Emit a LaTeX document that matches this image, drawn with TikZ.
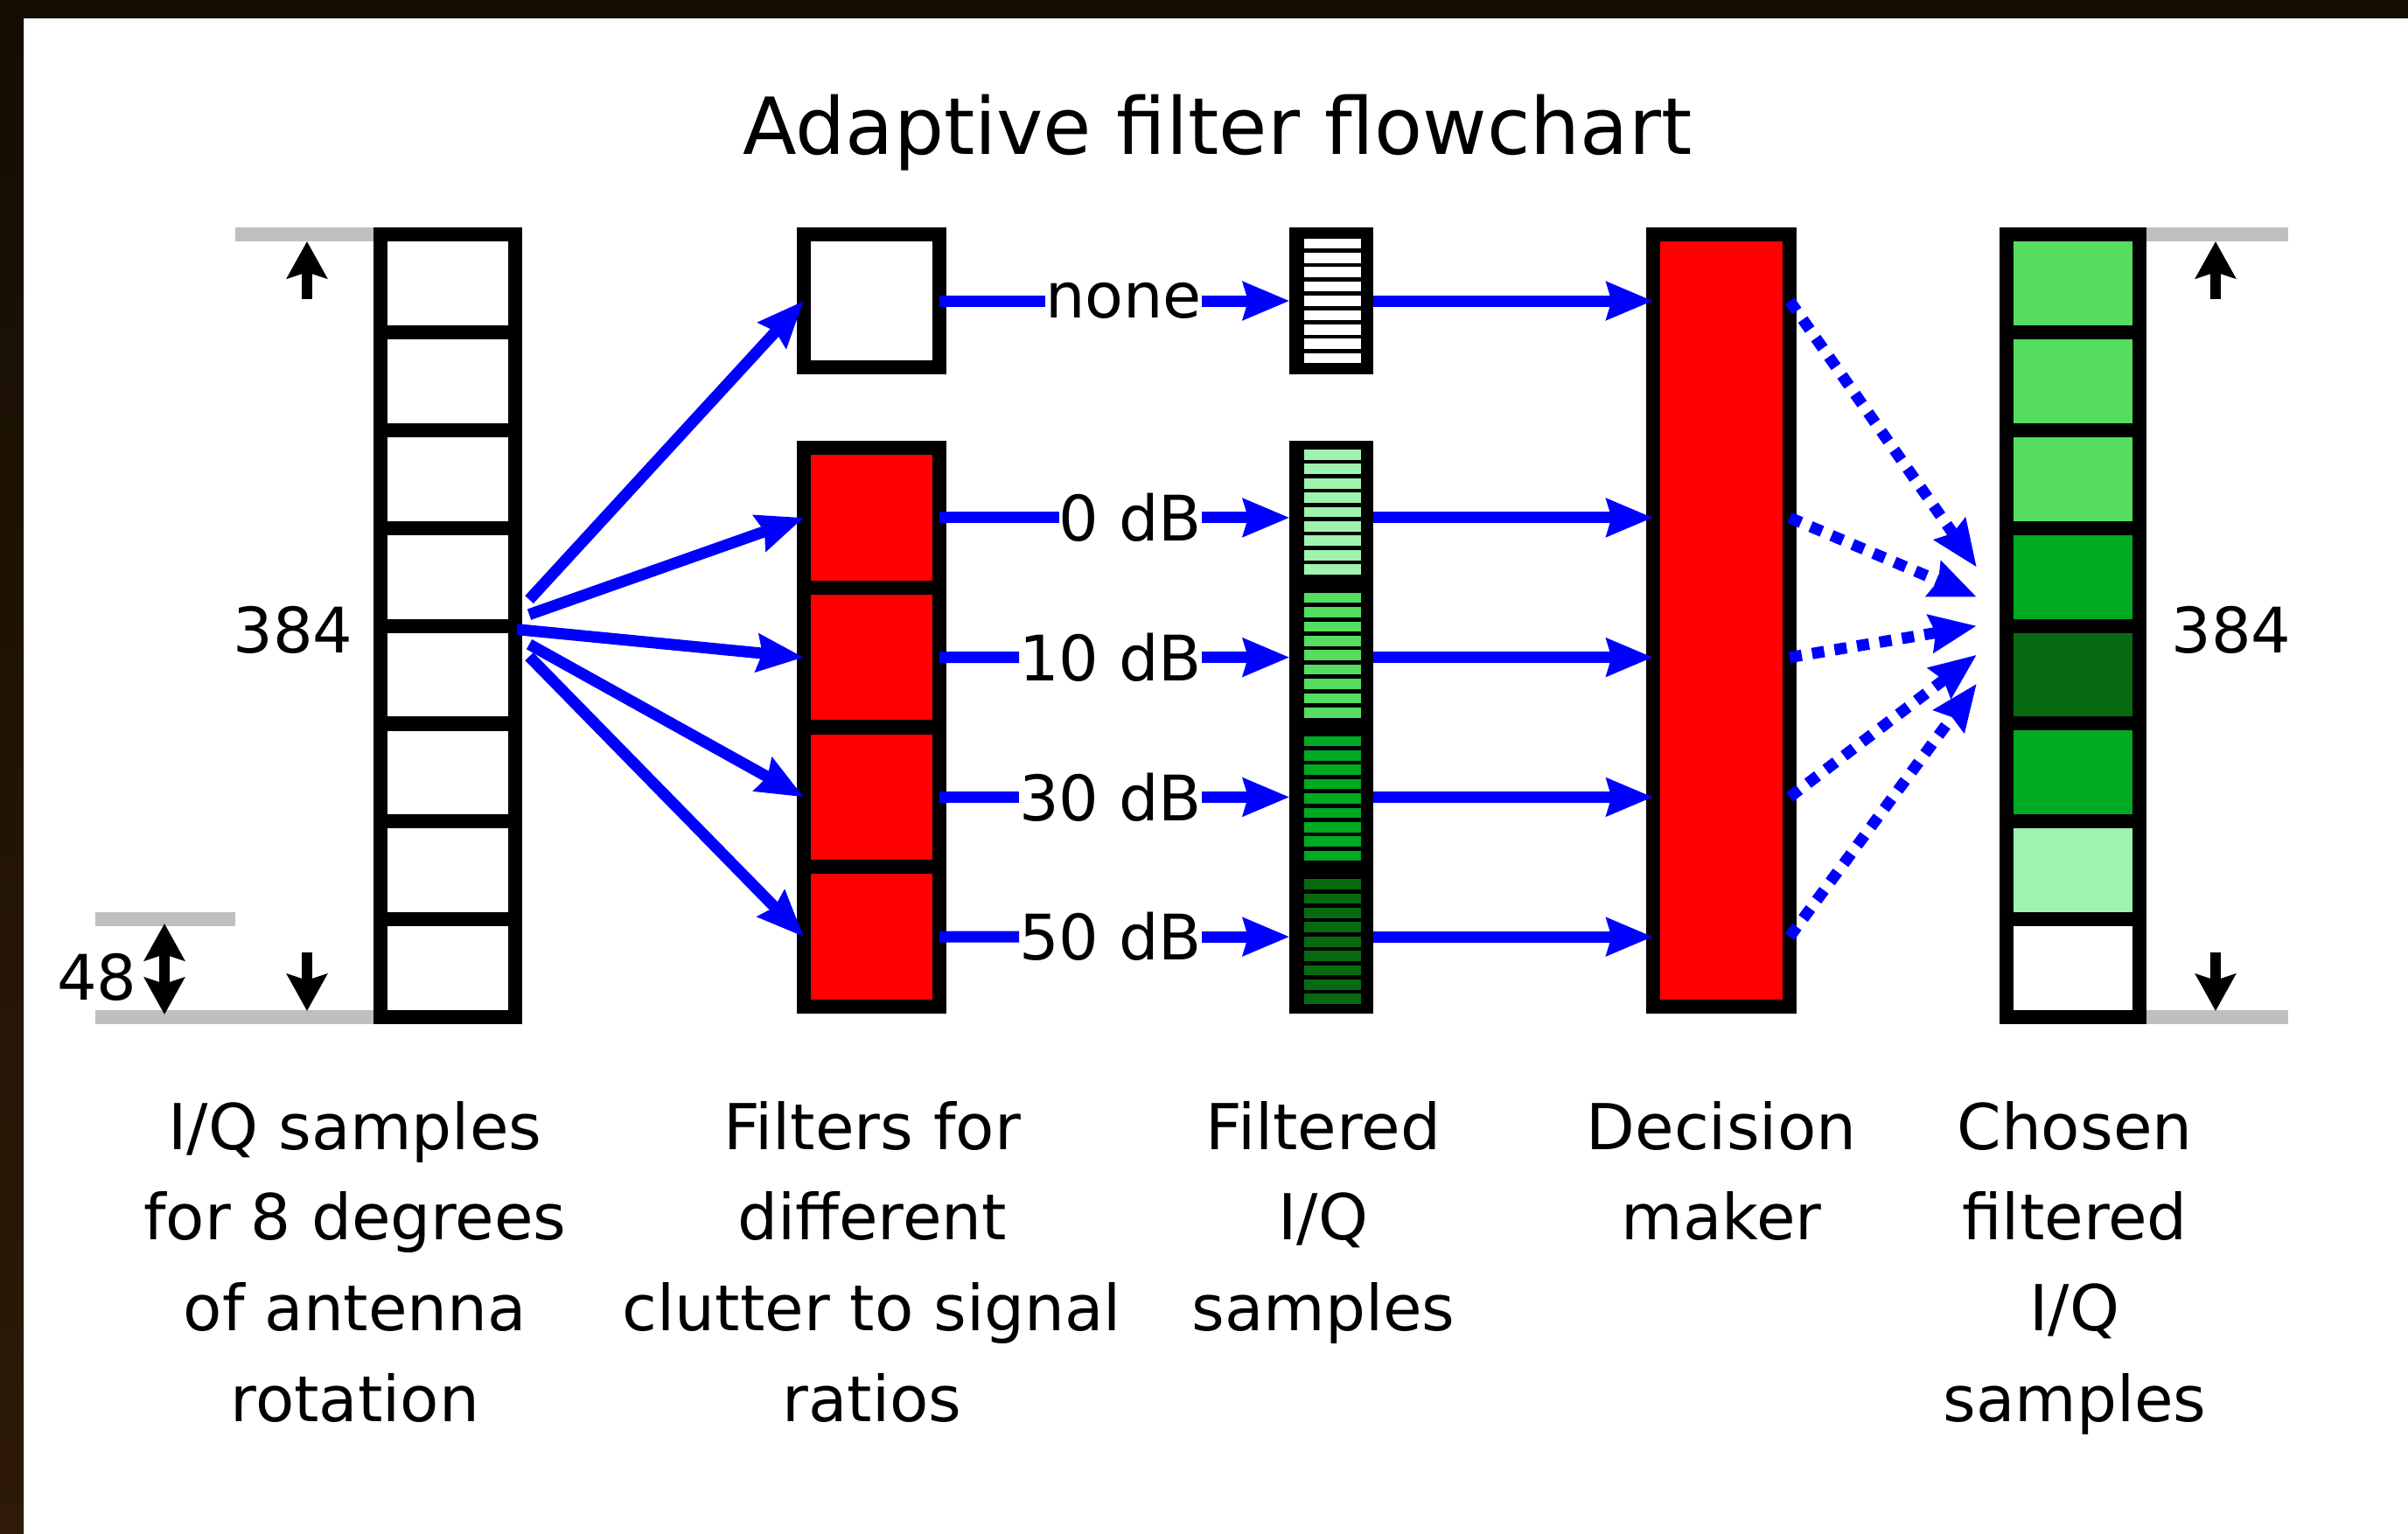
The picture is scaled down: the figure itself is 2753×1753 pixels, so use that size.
\documentclass[tikz,border=0pt]{standalone}
\usepackage{fontspec}
\setmainfont{DejaVu Sans}
\usepackage{tikz}
\usetikzlibrary{arrows.meta,positioning,calc}

\definecolor{framedark}{HTML}{140D02}
\definecolor{framebrown}{HTML}{2E1A06}
\definecolor{gmid}{HTML}{55DD60}
\definecolor{ggreen}{HTML}{00AA22}
\definecolor{gdark}{HTML}{076A11}
\definecolor{glight}{HTML}{9EF3AF}
\definecolor{guidegray}{HTML}{BFBFBF}

\begin{document}
\begin{tikzpicture}[x=0.01cm, y=-0.01cm,
    every node/.style={inner sep=0pt, outer sep=0pt},
    cell/.style={rectangle, draw=black, line width=0.16cm,
      minimum width=1.54cm, minimum height=1.119cm},
    filt/.style={rectangle, draw=black, fill=red, line width=0.16cm,
      minimum width=1.55cm, minimum height=1.5975cm},
    outbox/.style={rectangle, fill=black, minimum width=0.95cm, minimum height=1.6375cm},
    flow/.style={-{Stealth[length=15pt,width=12pt,inset=1.5pt]}, blue, line width=0.13cm},
    pick/.style={flow, dash pattern=on 4pt off 3.4pt},
    dim/.style={-{Stealth[length=12pt,width=13pt,inset=2pt]}, line width=0.12cm},
    dimboth/.style={{Stealth[length=12pt,width=13pt,inset=2pt]}-{Stealth[length=12pt,width=13pt,inset=2pt]},
      line width=0.12cm},
    rule/.style={guidegray, line width=0.16cm},
    num/.style={font=\fontsize{20.4}{24}\selectfont},
    lbl/.style={font=\fontsize{20.6}{29.5}\selectfont, align=center, anchor=north}
  ]
  % page and frame
  \fill[white] (0,0) rectangle (2753,1753);
  \shade[top color=framedark, bottom color=framebrown] (0,0) rectangle (27,1753);
  \fill[framedark] (0,0) rectangle (2753,21);

  \node[font=\fontsize{25.6}{30}\selectfont] (title) at (1392,152) {Adaptive filter flowchart};

  % guide lines for the sizes
  \coordinate (gl1) at (269,268);
  \coordinate (gl2) at (109,1163);
  \coordinate (gl3) at (109,1051.3);
  \coordinate (gl4) at (269,1051.3);
  \coordinate (gr1) at (2616,268);
  \coordinate (gr2) at (2616,1163);
  \draw[rule] (gl1) -- (435,268);
  \draw[rule] (gl2) -- (435,1163);
  \draw[rule] (gl3) -- (gl4);
  \draw[rule] (2446,268) -- (gr1);
  \draw[rule] (2446,1163) -- (gr2);

  % I/Q samples
  \foreach \k in {0,...,7}
    \node[cell] (iq\k) at (512,323.95+111.9*\k) {};
  \coordinate (fan) at (iq3.south east);

  % filters
  \node[filt, fill=white, minimum height=1.52cm] (fnone) at (996.5,344) {};
  \foreach \n [count=\g from 0] in {0,10,30,50}
    \node[filt] (f\n) at (996.5,591.9+159.75*\g) {};

  % filtered samples
  \node[outbox, minimum height=1.68cm] (qnone) at (1522,344) {};
  \foreach \i in {0,...,8}
    \fill[white] (1491,272.5+16.4*\i) rectangle (1556,284.2+16.4*\i);
  \foreach \n/\c [count=\g from 0] in {0/glight,10/gmid,30/ggreen,50/gdark} {
    \node[outbox] (q\n) at (1522,585.9+163.75*\g) {};
    \foreach \i in {0,...,8}
      \fill[\c] (1491,514+163.75*\g+16.4*\i) rectangle (1556,525.7+163.75*\g+16.4*\i);
  }

  % decision maker
  \node[filt, minimum width=1.56cm, minimum height=8.83cm] (dec) at (1968,709.5) {};

  % chosen samples
  \foreach \c [count=\k from 0] in {gmid,gmid,gmid,ggreen,gdark,ggreen,glight,white}
    \node[cell, fill=\c, minimum width=1.52cm] (ch\k) at (2370,323.95+111.9*\k) {};
  \coordinate (hub) at ([xshift=-0.34cm]ch3.south west);

  % ratio labels
  \node[num, anchor=east] (lnone) at (1374,344) {none};
  \node[num, anchor=east] (l0) at (1374,591.9) {0 dB};
  \node[num, anchor=east] (l10) at (1374,751.6) {10 dB};
  \node[num, anchor=east] (l30) at (1374,911.4) {30 dB};
  \node[num, anchor=east] (l50) at (1374,1071.1) {50 dB};

  % arrows
  \foreach \n/\sx/\sy/\d in {none/0.16/0.30/0.67,0/0.16/0.13/0.33,10/0.02/-0.04/0,30/0.16/-0.21/-0.33,50/0.16/-0.35/-0.66} {
    \coordinate (s\n) at ([xshift=\sx cm, yshift=\sy cm]fan);
    \draw[flow] (s\n) -- (f\n.west);
    \draw[blue, line width=0.13cm] (f\n.east) -- (l\n);
    \draw[flow] (l\n) -- (l\n -| q\n.west);
    \draw[flow] (l\n -| q\n.east) -- (l\n -| dec.west);
    \coordinate (t\n) at ([yshift=\d cm]hub);
    \draw[pick] (l\n -| dec.east) -- (t\n);
  }

  % size marks
  \coordinate (upL1) at (351,342);
  \coordinate (upL2) at (351,276);
  \coordinate (dnL1) at (351,1089);
  \coordinate (dnL2) at (351,1156);
  \coordinate (upR1) at (2533,342);
  \coordinate (upR2) at (2533,276);
  \coordinate (dnR1) at (2533,1089);
  \coordinate (dnR2) at (2533,1156);
  \coordinate (bothT) at (188,1056);
  \coordinate (bothB) at (188,1160);
  \draw[dim] (upL1) -- (upL2);
  \draw[dim] (dnL1) -- (dnL2);
  \draw[dim] (upR1) -- (upR2);
  \draw[dim] (dnR1) -- (dnR2);
  \draw[dimboth] (bothT) -- (bothB);

  \node[num] (n384l) at (335,720) {384};
  \node[num] (n384r) at (2551,720) {384};
  \node[num] (n48) at (111,1117) {48};

  % captions
  \node[lbl] (capiq) at (406,1259) {I/Q samples\\for 8 degrees\\of antenna\\rotation};
  \node[lbl] (capf) at (997,1259) {Filters for\\different\\clutter to signal\\ratios};
  \node[lbl] (capq) at (1513,1259) {Filtered\\I/Q\\samples};
  \node[lbl] (capd) at (1968,1259) {Decision\\maker};
  \node[lbl] (capc) at (2372,1259) {Chosen\\filtered\\I/Q\\samples};

  \useasboundingbox (0,0) rectangle (2753,1753);
\end{tikzpicture}
\end{document}
